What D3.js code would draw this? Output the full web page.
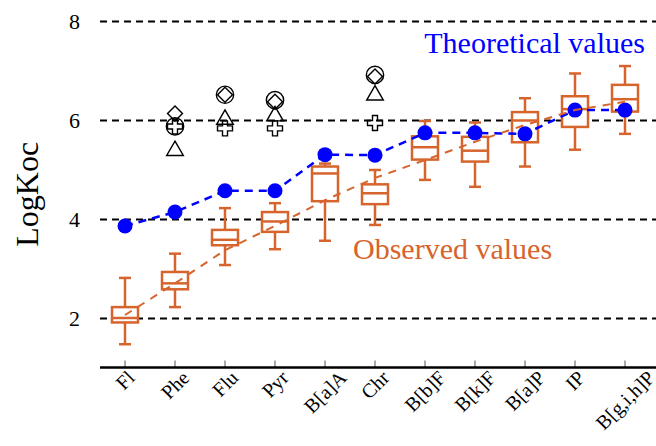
<!DOCTYPE html>
<html>
<head>
<meta charset="utf-8">
<script src="https://cdnjs.cloudflare.com/ajax/libs/d3/7.8.5/d3.min.js"></script>
<style>
	html, body { margin: 0; padding: 0; background: #fff; }
	svg { display: block; font-family: "Liberation Serif", "Times New Roman", serif; }
	.axis--y .domain { display: none; }
	.axis--y line { stroke: #000; stroke-width: 2; stroke-dasharray: 7,5; }
	.axis--y text { font-size: 22px; fill: #000; }
	.axis--x line { stroke: #555; stroke-width: 1; }
	.axis--x .domain { display: none; }
	.label--x { font-size: 20px; fill: #000; }
</style>
</head>
<body>
<div class="chart"><svg></svg></div>
<script>
(function() {

	//DATA
	var compounds = ['Fl', 'Phe', 'Flu', 'Pyr', 'B[a]A', 'Chr', 'B[b]F', 'B[k]F', 'B[a]P', 'IP', 'B[g,i,h]P'];

	// observed boxplots
	var whiskerLow  = [1.47, 2.22, 3.07, 3.39, 3.56, 3.88, 4.79, 4.65, 5.06, 5.40, 5.72];
	var boxLow      = [1.91, 2.58, 3.47, 3.74, 4.36, 4.30, 5.20, 5.16, 5.55, 5.86, 6.17];
	var medians     = [2.00, 2.70, 3.58, 3.95, 4.92, 4.52, 5.45, 5.38, 5.99, 6.22, 6.42];
	var boxHigh     = [2.22, 2.93, 3.78, 4.14, 5.06, 4.70, 5.67, 5.66, 6.16, 6.48, 6.71];
	var whiskerHigh = [2.81, 3.30, 4.22, 4.32, 5.12, 4.99, 5.98, 5.95, 6.44, 6.94, 7.09];

	// observed trend (dashed orange)
	var observedTrend = [2.06, 2.70, 3.37, 3.86, 4.38, 4.83, 5.19, 5.56, 5.90, 6.20, 6.37];

	// theoretical values (blue dots)
	var theoretical = [3.86, 4.14, 4.57, 4.57, 5.30, 5.29, 5.74, 5.74, 5.72, 6.20, 6.20];

	// outliers
	var outlierCompound = ['Phe', 'Phe', 'Phe', 'Phe', 'Flu', 'Flu', 'Flu', 'Flu', 'Pyr', 'Pyr', 'Pyr', 'Pyr', 'Chr', 'Chr', 'Chr', 'Chr'];
	var outlierShape    = ['diamond', 'circle', 'cross', 'triangle', 'circle', 'diamond', 'triangle', 'cross', 'circle', 'diamond', 'triangle', 'cross', 'circle', 'diamond', 'triangle', 'cross'];
	var outlierValue    = [6.13, 5.87, 5.87, 5.38, 6.51, 6.51, 6.01, 5.83, 6.40, 6.37, 6.08, 5.83, 6.91, 6.88, 6.50, 5.94];

	var yTicks = [2, 4, 6, 8];

	//VARS
	var colorObs = '#d6642c';
	var colorTheo = '#0000ff';
	var serif = '"Liberation Serif", "Times New Roman", serif';
	var w = 656;
	var h = 446;
	var margin = { top: 21, left: 100, right: 6, bottom: 78.5 };
	var plotBottom = h - margin.bottom;
	var boxWidth = 26;
	var capWidth = 12;
	var labelSize = 20;

	var svg = d3.select('.chart svg')
		.attr('width', w)
		.attr('height', h);

	//SCALES
	var x = d3.scaleBand()
		.domain(compounds)
		.range([margin.left, margin.left + 50 * compounds.length]);

	var y = d3.scaleLinear()
		.domain([1, 8])
		.range([plotBottom, margin.top]);

	function cx(d) { return x(d) + x.bandwidth() / 2; }

	//AXES
	var axisY = d3.axisLeft(y)
		.tickValues(yTicks)
		.tickSizeInner(-(w - margin.left))
		.tickSizeOuter(0)
		.tickPadding(20)
		.tickFormat(d3.format('d'));

	svg.append('g')
		.attr('class', 'axis axis--y')
		.attr('transform', 'translate(' + margin.left + ',0)')
		.call(axisY)
		.attr('font-family', serif)
		.attr('font-size', null);

	var axisX = d3.axisBottom(x)
		.tickSizeInner(-7)
		.tickSizeOuter(0)
		.tickFormat('');

	svg.append('g')
		.attr('class', 'axis axis--x')
		.attr('transform', 'translate(0,' + plotBottom + ')')
		.call(axisX);

	// rotated labels, centred under the tick, top edge just under the axis
	svg.append('g')
		.selectAll('text')
		.data(compounds)
		.enter()
		.append('text')
		.attr('class', 'label--x')
		.attr('text-anchor', 'middle')
		.attr('dominant-baseline', 'central')
		.text(function(d) { return d; })
		.attr('transform', function(d) {
			var len = this.getComputedTextLength();
			var half = (len + 0.8 * labelSize) * Math.SQRT1_2 / 2;
			return 'translate(' + cx(d) + ',' + (plotBottom + 1 + half) + ') rotate(-45)';
		});

	svg.append('line')
		.attr('x1', margin.left)
		.attr('x2', w)
		.attr('y1', plotBottom)
		.attr('y2', plotBottom)
		.style('stroke', '#000')
		.style('stroke-width', 2.5);

	svg.append('text')
		.attr('transform', 'translate(38,' + y(4.5) + ') rotate(-90)')
		.attr('text-anchor', 'middle')
		.style('font-size', '32px')
		.text('LogKoc');

	//BOXES
	var boxes = compounds.map(function(c, i) {
		return { name: c, wl: whiskerLow[i], q1: boxLow[i], med: medians[i], q3: boxHigh[i], wh: whiskerHigh[i] };
	});

	var boxG = svg.append('g')
		.attr('class', 'boxes')
		.style('stroke', colorObs)
		.style('stroke-width', 2.5)
		.selectAll('g')
		.data(boxes)
		.enter()
		.append('g');

	boxG.append('line')
		.attr('x1', function(d) { return cx(d.name); })
		.attr('x2', function(d) { return cx(d.name); })
		.attr('y1', function(d) { return y(d.wl); })
		.attr('y2', function(d) { return y(d.wh); });

	boxG.append('line')
		.attr('x1', function(d) { return cx(d.name) - capWidth / 2; })
		.attr('x2', function(d) { return cx(d.name) + capWidth / 2; })
		.attr('y1', function(d) { return y(d.wl); })
		.attr('y2', function(d) { return y(d.wl); });

	boxG.append('line')
		.attr('x1', function(d) { return cx(d.name) - capWidth / 2; })
		.attr('x2', function(d) { return cx(d.name) + capWidth / 2; })
		.attr('y1', function(d) { return y(d.wh); })
		.attr('y2', function(d) { return y(d.wh); });

	boxG.append('rect')
		.attr('x', function(d) { return cx(d.name) - boxWidth / 2; })
		.attr('width', boxWidth)
		.attr('y', function(d) { return y(d.q3); })
		.attr('height', function(d) { return y(d.q1) - y(d.q3); })
		.style('fill', '#fff');

	boxG.append('line')
		.attr('x1', function(d) { return cx(d.name) - boxWidth / 2; })
		.attr('x2', function(d) { return cx(d.name) + boxWidth / 2; })
		.attr('y1', function(d) { return y(d.med); })
		.attr('y2', function(d) { return y(d.med); });

	//OUTLIERS
	var symbolTypes = {
		circle: { type: d3.symbolCircle, size: 235, rotate: 0 },
		diamond: { type: d3.symbolSquare, size: 112, rotate: 45 },
		triangle: { type: d3.symbolTriangle, size: 120, rotate: 0 },
		cross: { type: d3.symbolCross, size: 125, rotate: 0 }
	};

	var outliers = outlierCompound.map(function(c, i) {
		return { name: c, shape: outlierShape[i], value: outlierValue[i] };
	});

	svg.append('g')
		.attr('class', 'outliers')
		.selectAll('path')
		.data(outliers)
		.enter()
		.append('path')
		.attr('d', function(d) {
			var s = symbolTypes[d.shape];
			return d3.symbol().type(s.type).size(s.size)();
		})
		.attr('transform', function(d) {
			return 'translate(' + cx(d.name) + ',' + y(d.value) + ') rotate(' + symbolTypes[d.shape].rotate + ')';
		})
		.style('fill', 'none')
		.style('stroke', '#000')
		.style('stroke-width', 1.4);

	//THEORETICAL
	var line = d3.line()
		.x(function(d) { return cx(d.name); })
		.y(function(d) { return y(d.value); });

	var theoData = compounds.map(function(c, i) { return { name: c, value: theoretical[i] }; });
	var obsData = compounds.map(function(c, i) { return { name: c, value: observedTrend[i] }; });

	svg.append('path')
		.datum(theoData)
		.attr('d', line)
		.style('fill', 'none')
		.style('stroke', colorTheo)
		.style('stroke-width', 2.5)
		.style('stroke-dasharray', '8,6');

	svg.append('g')
		.selectAll('circle')
		.data(theoData)
		.enter()
		.append('circle')
		.attr('cx', function(d) { return cx(d.name); })
		.attr('cy', function(d) { return y(d.value); })
		.attr('r', 7.5)
		.style('fill', colorTheo);

	//OBSERVED TREND
	svg.append('path')
		.datum(obsData)
		.attr('d', line)
		.style('fill', 'none')
		.style('stroke', colorObs)
		.style('stroke-width', 2)
		.style('stroke-dasharray', '8,7');

	//LABELS
	svg.append('text')
		.attr('x', cx(compounds[compounds.length - 1]) + 20)
		.attr('y', y(7.35))
		.attr('text-anchor', 'end')
		.style('font-size', '30px')
		.style('fill', colorTheo)
		.text('Theoretical values');

	svg.append('text')
		.attr('x', cx('Chr') - 22)
		.attr('y', y(3.2))
		.style('font-size', '30px')
		.style('fill', colorObs)
		.text('Observed values');

})()
</script>
</body>
</html>
